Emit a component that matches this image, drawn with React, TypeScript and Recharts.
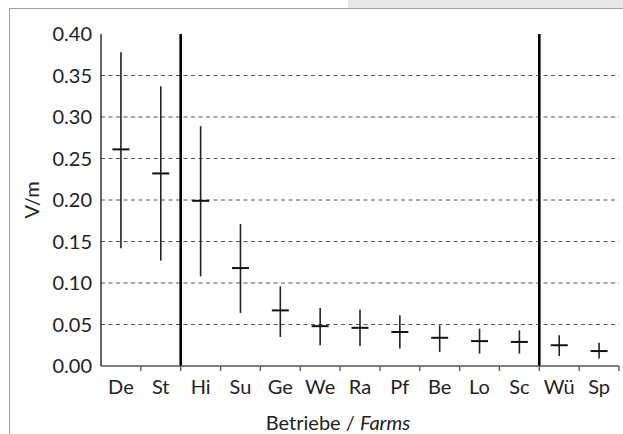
import React from 'react';
import { ScatterChart, Scatter, XAxis, YAxis, ErrorBar, ReferenceLine } from 'recharts';

const farms = ['De', 'St', 'Hi', 'Su', 'Ge', 'We', 'Ra', 'Pf', 'Be', 'Lo', 'Sc', 'Wü', 'Sp'];
const means = [0.261, 0.232, 0.199, 0.118, 0.067, 0.048, 0.046, 0.041, 0.034, 0.030, 0.029, 0.025, 0.018];
const highs = [0.378, 0.337, 0.289, 0.171, 0.096, 0.070, 0.068, 0.061, 0.049, 0.045, 0.043, 0.037, 0.028];
const lows = [0.142, 0.127, 0.108, 0.064, 0.035, 0.025, 0.024, 0.021, 0.017, 0.015, 0.015, 0.012, 0.009];
const yTicks = [0, 0.05, 0.1, 0.15, 0.2, 0.25, 0.3, 0.35, 0.4];
const gridValues = [0.05, 0.1, 0.15, 0.2, 0.25, 0.3, 0.35];
// group boundaries (in category units)
const separators = [2, 11];

const FONT = 20;

const rows = farms.map((name, i) => ({
  name,
  pos: i + 0.5,
  mean: means[i],
  err: [means[i] - lows[i], highs[i] - means[i]],
}));

// labels at category centres, tick marks at category boundaries
const xTicks: number[] = [];
for (let i = 0; i <= farms.length; i++) {
  xTicks.push(i);
  if (i < farms.length) xTicks.push(i + 0.5);
}

const XTick = (props: any) => {
  const { x, y, payload } = props;
  const v = payload.value;
  if (Number.isInteger(v)) {
    if (v === 0) return null;
    return <line x1={x} x2={x} y1={y} y2={y + 5} stroke="#555" strokeWidth={1.3} />;
  }
  return (
    <text x={x} y={y + 28} textAnchor="middle" fontSize={FONT} fill="#222">
      {farms[Math.floor(v)]}
    </text>
  );
};

const MeanDash = (props: any) => {
  const { cx, cy } = props;
  return <line x1={cx - 8.5} x2={cx + 8.5} y1={cy} y2={cy} stroke="#111" strokeWidth={2} />;
};

const XLabel = (props: any) => {
  const vb = props.viewBox;
  return (
    <text x={vb.x + vb.width / 2 - 22} y={vb.y + 64} textAnchor="middle" fontSize={FONT} fill="#222">
      <tspan>Betriebe / </tspan>
      <tspan fontStyle="italic">Farms</tspan>
    </text>
  );
};

const YLabel = (props: any) => {
  const vb = props.viewBox;
  const x = vb.x + 31;
  const y = vb.y + vb.height / 2;
  return (
    <text x={x} y={y} transform={`rotate(-90 ${x} ${y})`} textAnchor="middle" dominantBaseline="central" fontSize={FONT} fill="#222">
      V/m
    </text>
  );
};

export default function App() {
  return (
    <div style={{ position: 'absolute', left: 0, top: 0, width: 623, height: 434, background: '#fff', fontFamily: 'Lato, sans-serif', overflow: 'hidden' }}>
      <div style={{ position: 'absolute', left: 348, top: 0, width: 275, height: 8, background: '#e6e7e8' }} />
      <div style={{ position: 'absolute', left: 9, top: 8, width: 614, height: 1, background: '#a0a0a0' }} />
      <div style={{ position: 'absolute', left: 9, top: 8, width: 1, height: 426, background: '#a0a0a0' }} />
      <div style={{ position: 'absolute', left: 0, top: 0 }}>
        <ScatterChart width={623} height={434} margin={{ top: 34, right: 4, bottom: 0, left: 0 }}>
          {gridValues.map((g) => (
            <ReferenceLine key={g} y={g} stroke="#555" strokeDasharray="4 3.5" strokeWidth={1} />
          ))}
          <XAxis
            dataKey="pos"
            type="number"
            domain={[0, farms.length]}
            ticks={xTicks}
            interval={0}
            tick={<XTick />}
            tickLine={false}
            tickSize={0}
            tickMargin={0}
            height={68}
            axisLine={{ stroke: '#555', strokeWidth: 1.5 }}
            label={<XLabel />}
          />
          <YAxis
            dataKey="mean"
            type="number"
            domain={[0, 0.4]}
            ticks={yTicks}
            interval={0}
            width={101}
            tickLine={false}
            tickSize={0}
            tickMargin={9}
            tickFormatter={(v: number) => v.toFixed(2)}
            tick={{ fontSize: FONT, fill: '#222' }}
            axisLine={{ stroke: '#333', strokeWidth: 1.5 }}
            label={<YLabel />}
          />
          {separators.map((s) => (
            <ReferenceLine key={s} x={s} stroke="#000" strokeWidth={2.6} />
          ))}
          <Scatter data={rows} shape={<MeanDash />} isAnimationActive={false}>
            <ErrorBar dataKey="err" direction="y" width={0} stroke="#222" strokeWidth={1.6} isAnimationActive={false} />
          </Scatter>
        </ScatterChart>
      </div>
    </div>
  );
}
